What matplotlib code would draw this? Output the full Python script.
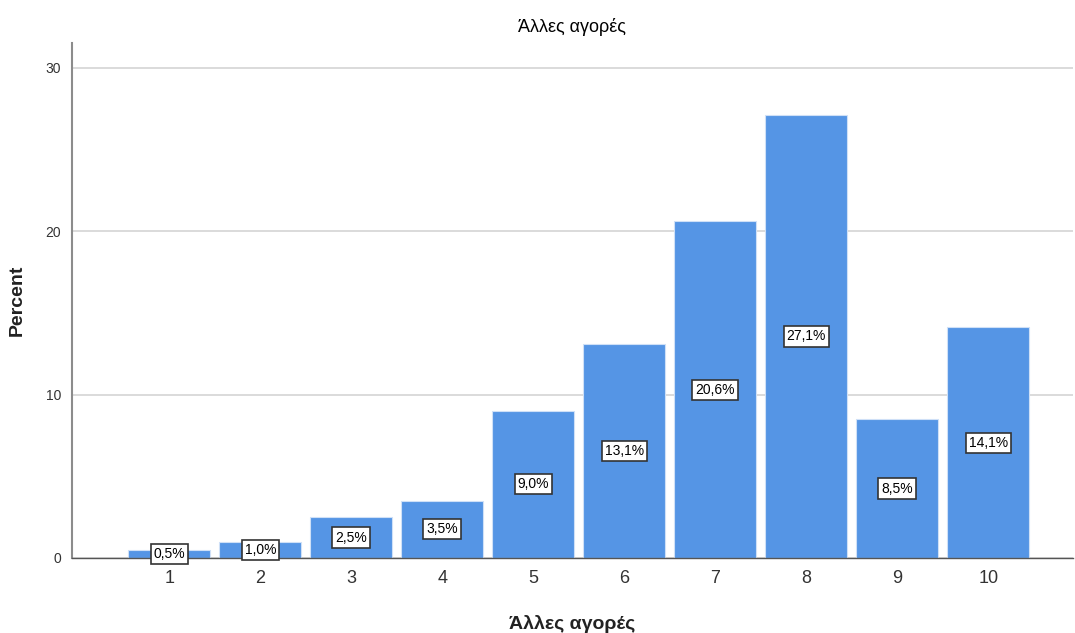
import matplotlib
matplotlib.use("Agg")
import matplotlib.pyplot as plt

plt.rcParams["font.family"] = ["Liberation Sans", "DejaVu Sans"]

BAR, GRID, AXIS, TEXT = "#5595e5", "#d4d4d4", "#8c8c8c", "#222222"

categories = ["1", "2", "3", "4", "5", "6", "7", "8", "9", "10"]
percent = [0.5, 1.0, 2.5, 3.5, 9.0, 13.1, 20.6, 27.1, 8.5, 14.1]
yticks = [0, 10, 20, 30]
title = "Άλλες αγορές"

fig = plt.figure(figsize=(10.75, 6.33), dpi=100, facecolor="white")
ax = fig.add_axes([0.067, 0.1185, 0.931, 0.8135])

x = list(range(1, len(categories) + 1))
ax.bar(x, percent, width=0.9, color=BAR, edgecolor="#cfe0f7", linewidth=0.8, zorder=2)

for xi, v in zip(x, percent):
    ax.text(xi, v / 2, f"{v:.1f}%".replace(".", ","), ha="center", va="center",
            fontsize=10, color="black", zorder=4,
            bbox=dict(boxstyle="square,pad=0.22", facecolor="white", edgecolor="#333333", linewidth=1.2))

ax.set_xlim(-0.07, 10.93)
ax.set_ylim(0, 31.5)
ax.set_xticks(x)
ax.set_xticklabels(categories, fontsize=13, color="#333333")
ax.set_yticks(yticks)
ax.set_yticklabels([str(t) for t in yticks], fontsize=10, color="#333333")
ax.tick_params(axis="x", length=0, pad=9)
ax.tick_params(axis="y", length=0, pad=8)

ax.grid(axis="y", color=GRID, linewidth=1.2, zorder=0)
ax.set_axisbelow(True)
for s in ["top", "right"]:
    ax.spines[s].set_visible(False)
ax.spines["left"].set_color(AXIS)
ax.spines["left"].set_linewidth(1.5)
ax.spines["bottom"].set_color("#555555")
ax.spines["bottom"].set_linewidth(1)

ax.set_title(title, fontsize=13, color="black", pad=8)
ax.set_xlabel(title, fontsize=14, fontweight="bold", color=TEXT, labelpad=20)
ax.set_ylabel("Percent", fontsize=14, fontweight="bold", color=TEXT, labelpad=14)

fig.savefig("out.png", dpi=100, facecolor="white")
